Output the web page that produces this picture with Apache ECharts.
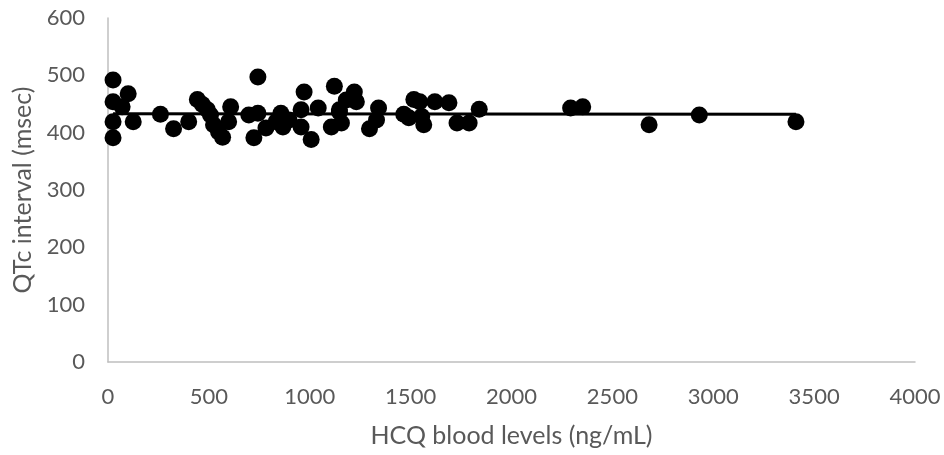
<!DOCTYPE html>
<html>
<head>
<meta charset="utf-8">
<script src="https://cdn.jsdelivr.net/npm/echarts@6/dist/echarts.min.js"></script>
<style>
  html, body { margin: 0; padding: 0; background: #fff; }
  #chart { width: 944px; height: 455px; }
</style>
</head>
<body>
<div id="chart"></div>
<script>
// HCQ blood level (ng/mL) per patient
var hcqLevels = [
  25, 100, 25, 70, 25, 125, 25, 260, 325, 400,
  443, 468, 493, 508, 523, 548, 568, 608, 598, 743,
  723, 698, 743, 783, 857, 867, 833, 897, 957, 972,
  957, 1007, 1042, 1107, 1122, 1147, 1221, 1231, 1181, 1147,
  1157, 1296, 1341, 1331, 1466, 1516, 1545, 1491, 1555, 1565,
  1620, 1690, 1730, 1790, 1840, 2293, 2353, 2682, 2931, 3410
];
// QTc interval (msec) per patient
var qtcValues = [
  492, 468, 454, 445, 419, 419, 391, 432, 407, 419,
  458, 449, 440, 431, 414, 401, 392, 445, 419, 497,
  391, 431, 434, 408, 434, 410, 419, 422, 440, 471,
  410, 388, 443, 410, 481, 440, 471, 454, 457, 436,
  417, 407, 443, 422, 432, 458, 454, 426, 428, 414,
  454, 452, 417, 417, 441, 443, 445, 414, 431, 419
];
// linear trend line end points
var trendX = [25, 3410];
var trendY = [433, 432];

var xTicks = { min: 0, max: 4000, interval: 500 };
var yTicks = { min: 0, max: 600, interval: 100 };

var points = hcqLevels.map(function (x, i) { return [x, qtcValues[i]]; });
var trend = trendX.map(function (x, i) { return [x, trendY[i]]; });

var font = 'Lato, "Open Sans", sans-serif';
var myChart = echarts.init(document.getElementById('chart'));
myChart.setOption({
  animation: false,
  backgroundColor: '#ffffff',
  grid: { left: 108, right: 29, top: 18, bottom: 93 },
  xAxis: {
    type: 'value',
    min: xTicks.min, max: xTicks.max, interval: xTicks.interval,
    name: 'HCQ blood levels (ng/mL)',
    nameLocation: 'middle',
    nameGap: 61,
    nameTextStyle: { color: '#595959', fontSize: 25, fontFamily: font },
    axisLine: { show: true, lineStyle: { color: '#bfbfbf', width: 1.5 } },
    axisTick: { show: false },
    splitLine: { show: false },
    axisLabel: {
      color: '#595959', fontSize: 22, fontFamily: font, margin: 24,
      formatter: function (v) { return String(v); }
    }
  },
  yAxis: {
    type: 'value',
    min: yTicks.min, max: yTicks.max, interval: yTicks.interval,
    name: 'QTc interval (msec)',
    nameLocation: 'middle',
    nameGap: 70,
    nameTextStyle: { color: '#595959', fontSize: 25, fontFamily: font },
    axisLine: { show: true, lineStyle: { color: '#bfbfbf', width: 1.5 } },
    axisTick: { show: false },
    splitLine: { show: false },
    axisLabel: { color: '#595959', fontSize: 22, fontFamily: font, margin: 23 }
  },
  series: [
    {
      type: 'line',
      data: trend,
      symbol: 'none',
      lineStyle: { color: '#000', width: 3 },
      z: 1
    },
    {
      type: 'scatter',
      data: points,
      symbol: 'circle',
      symbolSize: 17,
      itemStyle: { color: '#000', opacity: 1 },
      z: 2
    }
  ]
});
</script>
</body>
</html>
